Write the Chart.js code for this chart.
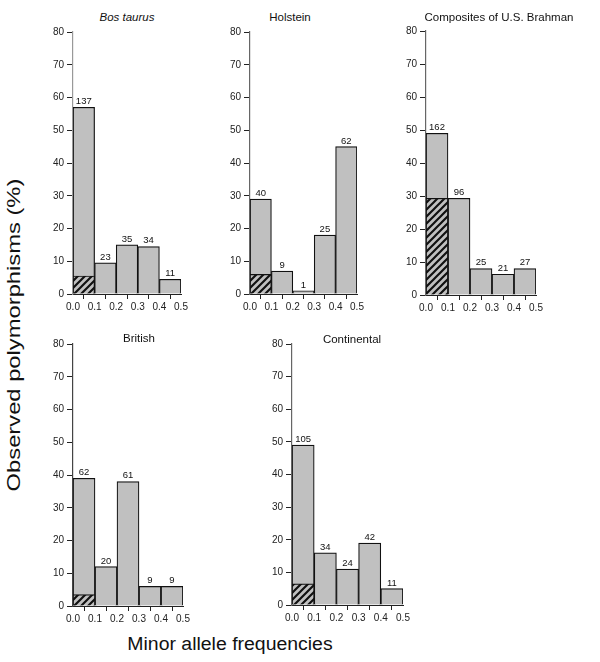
<!DOCTYPE html>
<html><head><meta charset="utf-8">
<script src="https://cdn.jsdelivr.net/npm/chart.js@4"></script>
<style>
body{margin:0;background:#fff;width:600px;height:662px;position:relative;overflow:hidden;font-family:"Liberation Sans",Arial,sans-serif}
canvas{position:absolute}
.t{position:absolute;font-size:11.5px;color:#111;white-space:nowrap;transform:translate(-50%,-50%)}
.ax{position:absolute;color:#111;white-space:nowrap}
</style></head><body>
<script>
// ---- data ----
const binCenters = [0.05, 0.15, 0.25, 0.35, 0.45];
const xTickValues = [0.0, 0.1, 0.2, 0.3, 0.4, 0.5];
const yTickValues = [0, 10, 20, 30, 40, 50, 60, 70, 80];
const panelTitles = ['Bos taurus', 'Holstein', 'Composites of U.S. Brahman', 'British', 'Continental'];

const bosTaurusPct     = [57, 9.5, 15, 14.5, 4.5];
const bosTaurusCounts  = [137, 23, 35, 34, 11];
const bosTaurusHatched = [5.5, null, null, null, null];

const holsteinPct      = [29, 7, 1, 18, 45];
const holsteinCounts   = [40, 9, 1, 25, 62];
const holsteinHatched  = [6, null, null, null, null];

const brahmanPct       = [49, 29.3, 8, 6.3, 8];
const brahmanCounts    = [162, 96, 25, 21, 27];
const brahmanHatched   = [29.3, null, null, null, null];

const britishPct       = [39, 12, 38, 6, 6];
const britishCounts    = [62, 20, 61, 9, 9];
const britishHatched   = [3.5, null, null, null, null];

const continentalPct     = [49, 16, 11, 19, 5];
const continentalCounts  = [105, 34, 24, 42, 11];
const continentalHatched = [6.5, null, null, null, null];

const yAxisTitle = 'Observed polymorphisms (%)';
const xAxisTitle = 'Minor allele frequencies';

// ---- layout (plot-area boxes, pixels) ----
const panels = [
  {pct: bosTaurusPct, counts: bosTaurusCounts, hatch: bosTaurusHatched, box: [73, 31, 181, 294], title: [127, 17], italic: true, axisColor: '#999'},
  {pct: holsteinPct, counts: holsteinCounts, hatch: holsteinHatched, box: [250, 31, 357, 294], title: [290, 17], axisColor: '#666'},
  {pct: brahmanPct, counts: brahmanCounts, hatch: brahmanHatched, box: [426, 30, 536, 295], title: [499, 17], axisColor: '#666'},
  {pct: britishPct, counts: britishCounts, hatch: britishHatched, box: [73, 343, 183, 606], title: [139, 338], axisColor: '#444'},
  {pct: continentalPct, counts: continentalCounts, hatch: continentalHatched, box: [292, 343, 403, 605], title: [352, 339], axisColor: '#666'}
];

const FONT = '"Liberation Sans", Arial, sans-serif';
Chart.defaults.font.family = FONT;

function makeHatch() {
  const s = 7;
  const c = document.createElement('canvas');
  c.width = s; c.height = s;
  const g = c.getContext('2d');
  g.fillStyle = '#c0c0c0'; g.fillRect(0, 0, s, s);
  g.strokeStyle = '#111'; g.lineWidth = 2.2;
  g.beginPath();
  g.moveTo(-1, s + 1); g.lineTo(s + 1, -1);
  g.moveTo(-s - 1, s + 1); g.lineTo(s + 1, -s - 1);
  g.moveTo(-1, 2 * s + 1); g.lineTo(2 * s + 1, -1);
  g.stroke();
  return g.createPattern(c, 'repeat');
}

const countLabels = {
  id: 'countLabels',
  afterDatasetsDraw(chart, args, opts) {
    const meta = chart.getDatasetMeta(1);
    const ctx = chart.ctx;
    ctx.save();
    ctx.font = '9.5px ' + FONT;
    ctx.fillStyle = '#111';
    ctx.textAlign = 'center';
    ctx.textBaseline = 'bottom';
    meta.data.forEach((el, i) => {
      ctx.fillText(String(opts.counts[i]), el.x, el.y - 1);
    });
    ctx.restore();
  }
};

const PADL = 36, PADT = 8, PADB = 22, PADR = 10;

panels.forEach((p, k) => {
  const [l, t, r, b] = p.box;
  const cv = document.createElement('canvas');
  const w = r - l + PADL + PADR, h = b - t + PADT + PADB;
  cv.width = w; cv.height = h;
  cv.style.left = (l - PADL) + 'px';
  cv.style.top = (t - PADT) + 'px';
  cv.style.width = w + 'px'; cv.style.height = h + 'px';
  document.body.appendChild(cv);

  const tt = document.createElement('div');
  tt.className = 't';
  tt.textContent = panelTitles[k];
  if (p.italic) tt.style.fontStyle = 'italic';
  tt.style.left = p.title[0] + 'px';
  tt.style.top = p.title[1] + 'px';
  document.body.appendChild(tt);

  new Chart(cv, {
    type: 'bar',
    data: {
      datasets: [
        {
          data: binCenters.map((x, i) => ({x, y: p.hatch[i]})),
          backgroundColor: makeHatch(),
          borderColor: '#111', borderWidth: 1.2,
          grouped: false, order: 0,
          barPercentage: 1, categoryPercentage: 1
        },
        {
          data: binCenters.map((x, i) => ({x, y: p.pct[i]})),
          backgroundColor: '#c0c0c0',
          borderColor: '#111', borderWidth: 1.2,
          grouped: false, order: 1,
          barPercentage: 1, categoryPercentage: 1
        }
      ]
    },
    options: {
      responsive: false, animation: false,
      layout: {padding: {left: 0, top: PADT, right: PADR, bottom: 0}},
      plugins: {legend: {display: false}, tooltip: {enabled: false}, countLabels: {counts: p.counts}},
      scales: {
        x: {
          type: 'linear', min: 0, max: 0.5, offset: false,
          afterBuildTicks: s => { s.ticks = xTickValues.map(v => ({value: v})); },
          afterFit: s => { s.height = PADB; },
          grid: {drawOnChartArea: false, drawTicks: true, tickLength: 5, color: '#222', lineWidth: 1},
          border: {color: '#222', width: 1},
          ticks: {font: {size: 10}, color: '#222', padding: 2, maxRotation: 0, autoSkip: false,
                  callback: v => Number(v).toFixed(1)}
        },
        y: {
          min: 0, max: 80,
          afterBuildTicks: s => { s.ticks = yTickValues.map(v => ({value: v})); },
          afterFit: s => { s.width = PADL; },
          grid: {drawOnChartArea: false, drawTicks: true, tickLength: 6, color: '#222', lineWidth: 1},
          border: {color: p.axisColor, width: 1.2},
          ticks: {font: {size: 10}, color: '#222', padding: 3, autoSkip: false}
        }
      }
    },
    plugins: [countLabels]
  });
});

const yt = document.createElement('div');
yt.className = 'ax'; yt.textContent = yAxisTitle;
yt.style.fontSize = '19px';
yt.style.left = '14px'; yt.style.top = '335px';
yt.style.transform = 'translate(-50%,-50%) rotate(-90deg) scaleX(1.25)';
document.body.appendChild(yt);

const xt = document.createElement('div');
xt.className = 'ax'; xt.textContent = xAxisTitle;
xt.style.fontSize = '18px';
xt.style.left = '230px'; xt.style.top = '644px';
xt.style.transform = 'translate(-50%,-50%) scaleX(1.08)';
document.body.appendChild(xt);
</script>
</body></html>
